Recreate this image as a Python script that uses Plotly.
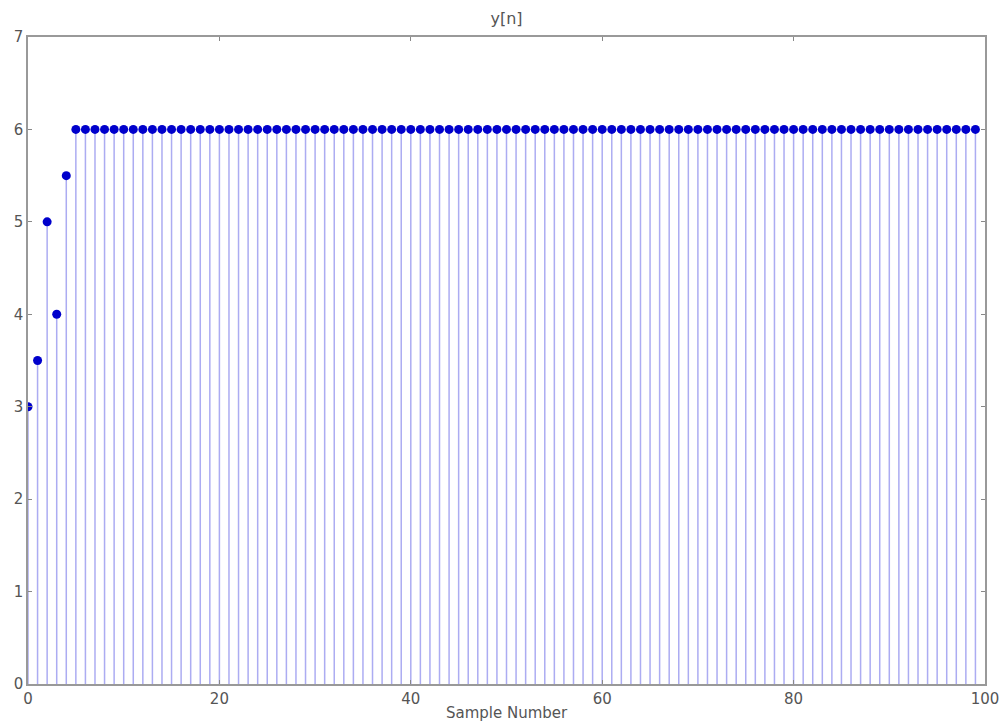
import plotly.graph_objects as go

# Data
n_values = list(range(100))
y_values = [3.0, 3.5, 5.0, 4.0, 5.5] + [6.0] * 95
x_ticks = [0, 20, 40, 60, 80, 100]
y_ticks = [0, 1, 2, 3, 4, 5, 6, 7]

# Build stem segments from data
stem_x, stem_y = [], []
for n, v in zip(n_values, y_values):
    stem_x += [n, n, None]
    stem_y += [0, v, None]

fig = go.Figure()
fig.add_trace(go.Scatter(x=stem_x, y=stem_y, mode="lines",
                         line=dict(color="rgba(90,90,230,0.5)", width=1.5),
                         hoverinfo="skip", showlegend=False))
fig.add_trace(go.Scatter(x=n_values, y=y_values, mode="markers",
                         marker=dict(color="#0000cc", size=9),
                         showlegend=False))

W, H = 999, 722
font = dict(family="DejaVu Sans, sans-serif", size=15, color="#555555")
fig.update_layout(
    width=W, height=H,
    margin=dict(l=28, r=14, t=37, b=38, autoexpand=False),
    paper_bgcolor="white", plot_bgcolor="white",
    font=font,
    title=dict(text="y[n]", x=0.5, xref="paper", xanchor="center",
               y=1 - 18 / H, yref="container", yanchor="middle",
               automargin=False,
               font=dict(family="DejaVu Sans, sans-serif", size=16, color="#555555")),
    annotations=[dict(text="Sample Number", x=0.5, xref="paper",
                      y=(684 - 713) / 647, yref="paper", xanchor="center", yanchor="middle",
                      showarrow=False,
                      font=dict(family="DejaVu Sans, sans-serif", size=15, color="#555555"))],
)
fig.update_xaxes(range=[0, 100], tickvals=x_ticks, ticks="inside", ticklen=4,
                 tickcolor="#888888", showline=True, linecolor="#999999", linewidth=1.5,
                 mirror="allticks", showgrid=False, zeroline=False, automargin=False,
                 ticklabeloverflow="allow", tickfont=font)
fig.update_yaxes(range=[0, 7], tickvals=y_ticks, ticks="inside", ticklen=4,
                 tickcolor="#888888", showline=True, linecolor="#999999", linewidth=1.5,
                 mirror="allticks", showgrid=False, zeroline=False, automargin=False,
                 ticklabeloverflow="allow", tickfont=font)

fig.write_html("out.html", config={"displayModeBar": False},
               post_script="document.body.style.margin='0';")
